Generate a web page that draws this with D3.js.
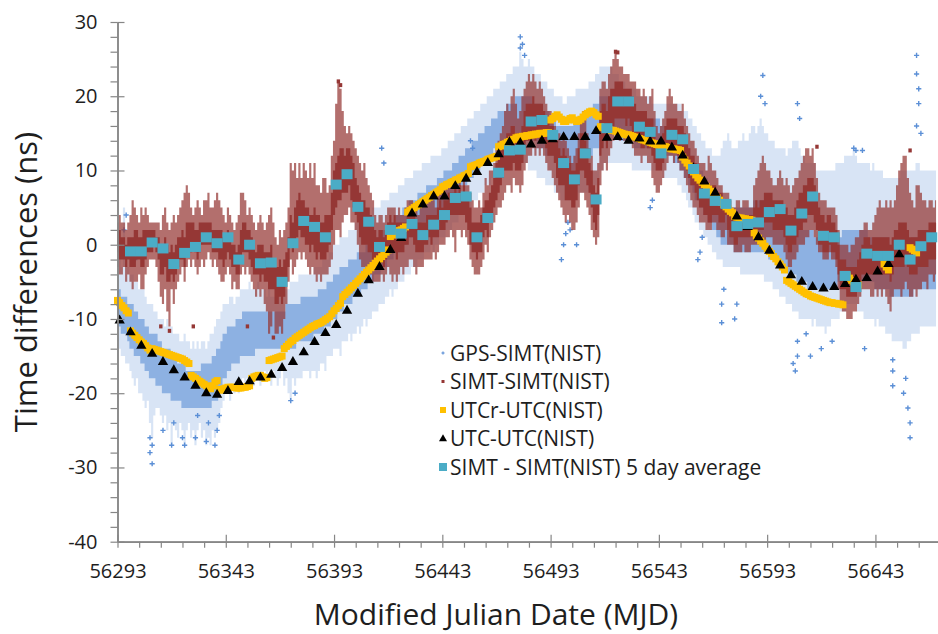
<!DOCTYPE html>
<html><head><meta charset="utf-8">
<script src="https://cdn.jsdelivr.net/npm/d3@7"></script>
<style>html,body{margin:0;padding:0;background:#fff;overflow:hidden}text{font-family:"Open Sans",sans-serif}</style>
</head><body>
<svg id="chart" width="938" height="634"></svg>
<script>
// ---------------- DATA ----------------
const startMJD = 56293;          // first day of the daily series
const xMajorTicks = [56293,56343,56393,56443,56493,56543,56593,56643];
const yMajorTicks = [-40,-30,-20,-10,0,10,20,30];
const seriesNames = ["GPS-SIMT(NIST)","SIMT-SIMT(NIST)","UTCr-UTC(NIST)","UTC-UTC(NIST)","SIMT - SIMT(NIST) 5 day average"];

// GPS-SIMT(NIST): daily [min, core low, core high, max] (ns), from MJD 56293
const gpsDaily = [
[-13,-11,-6,-2],[-14,-11,-6,0],[-15,-12,-7,-3],[-15,-12,-7,5],[-16,-12,-7,-2],[-16,-13,-8,-3],[-17,-14,-8,-4],[-18,-14,-8,-4],[-19,-15,-9,-5],[-18,-15,-9,-5],
[-20,-15,-10,-6],[-20,-16,-10,-6],[-21,-16,-10,-6],[-22,-17,-11,-7],[-21,-17,-11,-8],[-24,-18,-12,-8],[-26,-18,-12,-8],[-23,-18,-12,-9],[-22,-19,-12,-9],[-22,-19,-13,-10],
[-23,-19,-13,-10],[-24,-20,-14,-10],[-23,-20,-14,-11],[-25,-20,-14,-10],[-24,-20,-14,-11],[-27,-21,-15,-11],[-24,-21,-15,-12],[-25,-21,-15,-12],[-26,-21,-16,-12],[-24,-21,-16,-13],
[-25,-22,-16,-13],[-27,-22,-16,-12],[-25,-22,-17,-13],[-24,-22,-17,-13],[-26,-22,-17,-14],[-25,-22,-17,-13],[-27,-22,-17,-14],[-25,-22,-17,-13],[-24,-22,-17,-14],[-26,-22,-16,-13],
[-25,-22,-16,-13],[-27,-22,-16,-14],[-26,-22,-16,-13],[-27,-22,-16,-12],[-25,-21,-15,-12],[-26,-21,-15,-11],[-25,-21,-14,-10],[-24,-20,-14,-10],[-22,-19,-13,-9],[-21,-18,-12,-8],
[-20,-18,-12,-8],[-20,-17,-11,-8],[-21,-17,-11,-7],[-19,-16,-11,-7],[-20,-16,-11,-8],[-19,-16,-10,-7],[-20,-16,-10,-7],[-19,-15,-10,-6],[-18,-15,-9,-6],[-19,-15,-9,-6],
[-18,-15,-9,-6],[-19,-15,-9,-5],[-18,-15,-9,-6],[-19,-15,-9,-6],[-18,-14,-9,-6],[-18,-14,-9,-5],[-19,-14,-9,-6],[-18,-14,-9,-6],[-17,-14,-9,-6],[-18,-14,-9,-7],
[-17,-14,-9,-6],[-19,-14,-9,-7],[-17,-14,-9,-7],[-18,-14,-9,-7],[-19,-14,-9,-7],[-18,-14,-9,-6],[-17,-14,-9,-6],[-19,-14,-9,-6],[-18,-14,-8,-6],[-20,-14,-8,-6],
[-21,-14,-8,-5],[-18,-14,-8,-5],[-19,-14,-8,-5],[-18,-13,-8,-5],[-18,-13,-8,-4],[-18,-13,-7,-4],[-17,-13,-7,-4],[-17,-13,-7,-4],[-17,-13,-7,-4],[-18,-13,-7,-4],
[-17,-13,-7,-4],[-17,-12,-7,-3],[-18,-12,-7,-3],[-17,-12,-6,-3],[-16,-12,-6,-3],[-16,-12,-6,-2],[-17,-11,-6,-2],[-15,-11,-5,-2],[-15,-11,-5,-1],[-15,-10,-5,-1],
[-14,-10,-4,0],[-14,-10,-4,0],[-14,-9,-4,0],[-15,-9,-3,1],[-13,-9,-3,1],[-13,-8,-3,1],[-13,-8,-3,1],[-12,-8,-2,2],[-13,-8,-2,2],[-12,-7,-2,2],
[-12,-7,-2,3],[-11,-7,-1,3],[-12,-7,-1,3],[-11,-6,-1,3],[-10,-6,-1,4],[-11,-6,0,4],[-10,-5,0,4],[-10,-5,0,4],[-9,-5,0,5],[-9,-4,1,5],
[-9,-4,1,5],[-8,-4,1,5],[-8,-3,2,6],[-8,-3,2,6],[-7,-3,2,6],[-7,-2,3,6],[-6,-2,3,7],[-7,-2,3,7],[-6,-1,3,7],[-6,-1,4,7],
[-5,-1,4,8],[-5,0,4,8],[-5,0,5,8],[-4,0,5,9],[-4,1,5,9],[-4,1,6,9],[-3,1,6,9],[-3,2,6,10],[-3,2,6,10],[-2,2,7,10],
[-2,2,7,10],[-2,3,7,11],[-1,3,7,11],[-1,3,8,11],[-1,3,8,11],[0,4,8,12],[-1,4,8,12],[0,4,8,12],[0,4,9,12],[1,5,9,12],
[1,5,9,13],[1,5,10,13],[2,5,10,13],[2,6,10,14],[2,6,10,14],[3,6,11,14],[3,7,11,15],[3,7,11,15],[4,7,12,15],[4,8,12,16],
[4,8,12,16],[5,8,13,16],[5,9,13,17],[5,9,13,17],[6,9,14,17],[6,10,14,18],[6,10,14,18],[7,10,15,18],[7,11,15,19],[7,11,15,19],
[8,11,16,19],[8,12,16,20],[8,12,16,20],[9,12,17,20],[9,13,17,21],[9,13,17,21],[10,13,18,21],[10,13,18,22],[10,14,18,22],[10,14,18,22],
[10,14,19,23],[10,14,19,23],[11,14,19,23],[11,14,19,24],[11,15,20,24],[11,15,20,24],[11,15,20,26],[11,15,20,25],[11,15,20,24],[11,15,20,24],
[10,14,20,25],[10,14,20,24],[10,14,19,24],[10,14,19,23],[9,13,19,23],[9,13,19,23],[9,13,18,22],[9,13,18,22],[8,12,18,22],[8,12,18,21],
[8,12,17,21],[8,12,17,21],[7,11,17,20],[7,11,16,20],[7,11,16,20],[6,10,16,20],[6,10,16,19],[6,10,16,19],[6,10,16,20],[6,10,16,20],
[6,10,16,20],[6,10,17,20],[6,11,17,21],[7,11,17,21],[7,11,17,21],[7,11,17,21],[7,12,18,21],[7,12,18,21],[7,12,18,22],[8,12,18,22],
[8,13,19,22],[8,13,19,23],[9,13,19,23],[10,14,20,24],[10,14,20,24],[11,15,20,24],[11,15,20,24],[11,15,20,24],[11,15,20,24],[11,15,20,23],
[11,15,20,23],[11,15,19,23],[11,14,19,22],[11,14,19,22],[11,14,19,22],[11,14,19,21],[11,14,18,21],[11,14,18,21],[10,14,18,21],[10,13,18,21],
[10,13,18,20],[10,13,18,20],[10,13,17,20],[10,13,17,20],[10,13,17,20],[10,13,17,20],[10,13,17,20],[10,13,17,19],[10,13,17,19],[10,13,17,19],
[10,12,17,19],[10,12,16,19],[9,12,16,19],[9,12,16,19],[9,12,16,19],[9,12,16,19],[9,12,16,19],[9,11,16,19],[9,11,15,19],[8,11,15,19],
[8,10,15,19],[7,10,14,18],[7,9,14,18],[6,9,13,18],[5,8,13,17],[5,8,12,17],[4,7,12,16],[3,6,11,16],[3,6,11,15],[2,5,10,15],
[2,5,10,14],[1,4,9,14],[1,4,9,13],[0,3,8,13],[0,3,8,13],[-1,2,7,12],[-1,2,7,12],[-2,1,7,12],[-2,1,6,12],[-2,0,6,13],
[-3,0,6,14],[-3,0,5,14],[-3,0,5,15],[-3,0,5,14],[-3,0,5,13],[-3,-1,5,13],[-3,-1,5,13],[-3,-1,5,14],[-4,-1,5,14],[-4,-1,5,15],
[-4,-1,5,14],[-4,-1,5,14],[-4,-1,5,15],[-4,-1,5,16],[-4,-1,6,16],[-4,-1,6,15],[-4,-1,6,16],[-4,-1,6,17],[-4,-1,6,16],[-5,-1,6,15],
[-5,-1,6,15],[-5,-2,6,14],[-5,-2,5,14],[-6,-2,5,14],[-6,-2,5,13],[-6,-2,5,13],[-7,-3,5,13],[-7,-3,4,13],[-7,-3,4,13],[-8,-3,4,12],
[-8,-4,4,13],[-8,-4,3,13],[-9,-4,3,14],[-9,-4,3,14],[-9,-5,3,14],[-10,-5,3,13],[-10,-5,2,12],[-10,-5,2,12],[-10,-5,2,11],[-10,-6,2,11],
[-10,-6,2,11],[-11,-6,2,11],[-10,-6,1,11],[-11,-6,1,10],[-11,-6,1,10],[-11,-6,1,10],[-11,-6,1,10],[-12,-6,1,10],[-11,-6,1,10],[-11,-6,1,10],
[-10,-6,1,10],[-10,-6,1,10],[-10,-6,1,11],[-10,-5,1,11],[-9,-5,1,11],[-9,-5,2,11],[-9,-5,2,12],[-8,-5,2,12],[-8,-4,2,12],[-8,-4,2,12],
[-8,-4,2,13],[-8,-4,2,12],[-9,-4,2,11],[-9,-5,2,11],[-9,-5,2,11],[-10,-5,2,11],[-10,-5,2,11],[-10,-5,1,11],[-10,-5,1,10],[-10,-5,1,11],
[-11,-6,1,10],[-10,-6,1,10],[-11,-6,1,10],[-11,-6,1,10],[-11,-6,1,9],[-12,-6,1,9],[-12,-6,1,9],[-12,-7,0,9],[-13,-7,0,9],[-13,-7,0,9],
[-13,-7,0,9],[-13,-7,0,9],[-13,-7,0,10],[-14,-7,0,10],[-14,-7,0,10],[-13,-7,0,10],[-13,-7,0,10],[-12,-7,1,10],[-12,-6,1,10],[-12,-6,1,11],
[-12,-6,1,11],[-11,-6,1,10],[-11,-6,1,10],[-11,-6,1,10],[-11,-6,1,10],[-11,-6,1,10],[-11,-6,1,10],[-11,-6,1,10],[-11,-6,1,10]
];
// GPS-SIMT(NIST) isolated points [MJD, ns]
const gpsOutliers = [
[56296,2],[56297,4],[56299,-1],[56301,-2],[56308,-26],[56308,-28],[56309,-29.5],[56309,-27],[56314,-25],[56318,-27],[56319,-24],[56323,-26],
[56324,-27],[56329,-26],[56330,-23],[56334,-26.5],[56335,-24],[56338,-27],[56339,-25],[56340,-23],[56373,-21],[56375,-20],
[56415,13],[56416,11],[56456,14],[56457,13],[56479,28],[56479,26.5],[56480,27],[56481,25.5],
[56498,-2],[56499,0],[56500,1.5],[56501,3],[56502,2],[56505,0],[56539,5],[56540,6],[56561,-2],[56562,-1],[56563,1],
[56572,-10.5],[56572,-8],[56573,-6],[56578,-10],[56579,-8],[56605,-16],[56606,-17],[56607,-15],[56607,-13],[56611,-12],[56613,-15],
[56618,-14],[56623,-13],[56638,-14],[56651,-19],[56651,-17],[56651,-15.5],[56656,-20],[56657,-18],[56658,-22],[56659,-24],[56659,-26],
[56590,20],[56591,22.8],[56592,19],[56607,19],[56608,17],[56633,13],[56634,12.7],[56637,12.7],
[56662,25.5],[56662,23],[56663,21],[56663,19],[56662,16],[56664,15]
];

// SIMT-SIMT(NIST): daily [min, core low, core high, max] (ns), from MJD 56293
const simtDaily = [
[-3,-1,2,3],[-4,-2,2,4],[-4,-2,1,3],[-3,-2,1,3],[-5,-3,0,2],[-4,-2,1,3],[-5,-3,1,4],[-6,-3,1,6],[-5,-3,2,5],[-5,-2,2,4],
[-4,-2,1,3],[-6,-3,1,5],[-6,-3,2,4],[-4,-2,2,5],[-3,-1,2,4],[-2,-1,2,3],[-2,-1,2,3],[-2,0,2,3],[-3,-1,1,3],[-5,-2,1,3],
[-7,-4,0,2],[-8,-4,0,4],[-6,-3,1,5],[-9,-5,0,3],[-11,-5,-1,2],[-6,-4,0,3],[-8,-5,-1,4],[-6,-4,0,3],[-5,-3,1,4],[-4,-2,1,5],
[-3,-2,2,6],[-5,-3,1,7],[-3,-1,3,8],[-2,-1,3,7],[-3,-1,3,5],[-2,0,3,4],[-3,-1,2,5],[-4,-2,2,6],[-3,-1,3,5],[-2,0,3,4],
[-3,0,3,6],[-2,0,3,6],[-1,0,3,7],[-2,0,3,5],[-3,-1,2,5],[-2,-1,2,6],[-3,-1,2,7],[-4,-2,2,6],[-5,-2,2,5],[-5,-3,1,4],
[-4,-2,1,3],[-3,-1,2,5],[-4,-2,1,4],[-6,-3,0,3],[-5,-3,0,2],[-6,-4,-1,3],[-6,-4,0,4],[-4,-2,2,7],[-3,-1,3,7],[-4,-1,3,6],
[-3,-1,2,4],[-4,-2,2,5],[-5,-3,1,4],[-6,-4,0,3],[-7,-4,-1,2],[-6,-4,0,3],[-7,-5,0,4],[-6,-4,0,3],[-8,-5,-1,2],[-9,-5,-1,3],
[-12,-6,-1,4],[-11,-6,0,5],[-9,-6,-2,3],[-12,-8,-3,1],[-12,-8,-3,0],[-11,-7,-2,2],[-12,-8,-3,1],[-10,-7,-2,2],[-8,-5,-1,3],[-5,-3,1,5],
[-2,0,4,11],[-4,-1,3,10],[-3,0,5,11],[-2,1,6,9],[-1,2,7,11],[-2,1,6,9],[-1,1,6,11],[-2,0,5,10],[-3,0,5,9],[-4,-1,4,11],
[-3,0,4,9],[-4,-1,5,11],[-5,-2,4,8],[-4,-1,4,8],[-5,-2,3,7],[-4,-2,3,9],[-4,-2,4,9],[-4,-1,4,7],[-3,0,4,8],[-2,2,7,12],
[0,4,10,14],[2,5,11,19],[2,6,12,22],[1,6,13,21],[3,7,13,18],[4,7,12,16],[4,7,13,15],[5,8,13,16],[3,6,12,15],[3,5,11,14],
[2,4,9,13],[0,3,8,12],[-2,1,7,11],[-3,0,6,10],[-3,0,6,11],[-4,0,5,9],[-4,-1,5,8],[-4,-1,4,7],[-5,-2,3,6],[-5,-2,2,4],
[-5,-3,1,3],[-5,-3,2,4],[-4,-2,2,4],[-5,-3,1,3],[-4,-2,2,4],[-3,-1,3,5],[-4,-1,4,5],[-5,-1,3,5],[-4,-1,4,5],[-5,-2,3,4],
[-4,-1,3,5],[-3,-1,3,4],[-4,-1,3,4],[-3,0,3,5],[-3,0,4,6],[-2,1,4,6],[-2,1,4,6],[-3,0,4,5],[-4,-1,3,5],[-3,-1,3,4],
[-3,-1,3,5],[-3,-1,3,6],[-2,0,3,6],[-2,0,4,6],[-2,1,4,7],[-2,0,4,6],[-1,1,4,6],[-2,1,4,5],[-1,1,5,7],[0,2,6,7],
[0,2,5,8],[0,2,6,8],[1,3,6,8],[1,4,7,8],[2,4,7,9],[1,4,7,8],[-1,4,8,9],[2,4,7,8],[2,4,8,9],[1,4,7,8],
[2,4,8,9],[1,3,7,8],[0,2,6,8],[-2,0,5,7],[-3,-1,3,6],[-4,-1,3,5],[-4,-2,3,5],[-4,-1,3,6],[-3,-1,4,5],[-2,1,5,7],
[0,2,6,9],[-1,1,6,8],[1,3,7,10],[2,4,8,10],[3,5,9,11],[4,6,11,13],[5,7,12,14],[5,8,13,15],[6,9,14,16],[7,10,14,18],
[8,10,15,19],[8,10,15,18],[7,10,16,20],[9,11,16,21],[8,10,15,19],[8,10,15,17],[7,10,15,18],[8,11,16,20],[10,13,18,21],[11,14,19,22],
[12,14,19,23],[12,14,19,22],[13,15,20,23],[12,14,19,22],[13,15,19,21],[12,14,19,22],[13,15,19,21],[12,14,18,20],[11,13,17,19],[10,12,17,18],
[10,12,16,18],[9,12,16,17],[8,11,15,16],[7,9,14,15],[6,8,13,15],[5,8,12,14],[4,8,13,15],[3,6,12,14],[4,6,11,13],[3,6,11,12],
[2,5,10,11],[2,5,10,12],[3,6,11,13],[5,8,13,15],[7,10,15,17],[7,10,15,18],[6,9,14,17],[5,8,13,15],[4,7,11,13],[2,5,10,12],
[1,3,8,10],[0,2,7,10],[1,4,9,11],[8,12,18,21],[10,13,19,22],[11,14,19,22],[10,13,18,21],[12,15,20,23],[13,16,21,24],[14,16,21,25],
[15,17,22,26],[15,17,22,25],[14,17,22,24],[15,17,22,24],[14,17,21,23],[14,16,21,23],[15,17,21,23],[14,16,21,22],[13,15,20,22],[12,14,19,22],
[12,14,18,21],[12,14,18,21],[11,13,18,20],[12,13,18,21],[12,14,18,20],[11,13,17,19],[11,13,17,20],[9,12,17,21],[8,11,15,18],[7,10,14,16],
[7,10,14,15],[8,10,14,16],[9,11,15,17],[10,12,16,18],[11,13,17,20],[12,13,17,21],[12,13,17,20],[11,13,17,19],[12,13,17,19],[11,12,16,18],
[10,12,16,18],[10,12,16,19],[9,11,15,17],[8,10,14,16],[7,9,13,15],[6,8,12,14],[5,8,12,14],[5,7,11,13],[4,6,10,12],[3,5,9,11],
[3,5,9,11],[3,4,9,11],[2,4,8,10],[2,3,8,12],[2,3,7,11],[3,4,8,10],[3,4,8,10],[2,4,7,9],[2,3,7,8],[1,3,7,8],
[1,3,6,7],[2,4,6,7],[0,2,5,7],[0,1,4,6],[0,1,4,5],[-1,0,4,5],[-1,0,4,6],[-1,1,4,6],[-1,1,4,5],[0,1,4,6],
[-1,1,4,6],[-1,1,4,6],[-1,1,4,5],[0,1,4,5],[0,2,5,8],[0,2,6,9],[0,2,5,10],[1,2,6,11],[0,2,6,12],[0,3,7,11],
[1,3,7,10],[1,3,7,10],[1,3,7,9],[0,2,6,8],[0,2,6,8],[0,2,6,9],[0,2,6,10],[0,2,6,9],[-1,1,5,8],[-2,0,5,9],
[-3,-1,4,8],[-3,-1,4,7],[-2,0,4,8],[-2,0,5,9],[-1,1,6,9],[0,2,7,10],[0,2,7,11],[0,3,8,12],[1,3,8,13],[1,4,9,13],
[2,4,9,12],[2,4,9,13],[1,3,8,11],[0,2,7,9],[-1,0,5,7],[-1,0,4,6],[-2,-1,4,6],[-2,-1,3,6],[-2,-1,4,5],[-1,0,4,5],
[-2,-1,3,5],[-2,-1,3,5],[-3,-2,2,4],[-6,-4,0,2],[-8,-6,-2,0],[-9,-6,-2,0],[-9,-6,-2,0],[-10,-7,-3,0],[-10,-7,-3,-1],[-10,-7,-3,0],
[-9,-7,-3,0],[-9,-7,-3,1],[-8,-6,-2,1],[-7,-5,-1,2],[-6,-4,0,2],[-6,-4,1,3],[-6,-4,1,3],[-6,-4,1,2],[-7,-4,0,2],[-7,-4,1,3],
[-6,-4,1,4],[-7,-4,1,5],[-6,-4,1,6],[-7,-4,1,5],[-6,-4,1,5],[-7,-4,1,6],[-8,-4,1,5],[-9,-5,0,6],[-7,-4,1,5],[-6,-3,2,6],
[-6,-3,2,8],[-6,-3,3,10],[-7,-3,3,11],[-6,-3,3,12],[-5,-2,3,12],[-6,-3,2,9],[-7,-4,1,7],[-7,-4,1,6],[-6,-4,1,5],[-7,-4,1,8],
[-6,-3,2,8],[-6,-3,2,7],[-5,-3,2,6],[-5,-3,2,6],[-6,-3,2,5],[-4,-2,3,6],[-4,-2,3,6],[-5,-2,3,5],[-4,-2,3,6]
];
// SIMT-SIMT(NIST) isolated points [MJD, ns]
const simtOutliers = [
[56313,-11],[56317,-11.6],[56328,-11],[56353,-11],[56365,-12.5],[56395,22],[56396,21.5],[56523,26],[56524,25.9],[56616,13.2],[56659,12.7]
];

// UTCr-UTC(NIST): daily values (ns) from MJD 56293
const utcrVals = [
-7.5,-7.8,-8.2,-8.5,-8.9,-9.2,-11.6,-11.9,-12.2,-12.5,
-12.8,-13.1,-13.3,-13.6,-13.9,-14.2,-14.0,-14.1,-14.2,-14.3,
-14.4,-14.5,-14.6,-14.7,-14.8,-14.9,-15.0,-15.1,-15.2,-15.3,
-15.4,-15.6,-15.8,-16.0,-17.6,-17.8,-18.0,-18.2,-18.4,-18.6,
-18.8,-19.0,-19.2,-19.4,-19.0,-18.5,-18.3,-19.5,-19.6,-19.4,
-19.3,-19.2,-19.2,-19.2,-19.2,-19.3,-19.3,-19.3,-19.2,-19.2,
-19.1,-19.0,-18.0,-17.8,-17.7,-17.6,-17.6,-17.8,-18.0,-17.9,
-15.6,-15.5,-15.4,-15.3,-15.2,-15.1,-15.0,-14.0,-13.7,-13.4,
-13.1,-12.9,-12.6,-12.4,-12.2,-12.0,-11.8,-11.6,-11.4,-11.2,
-11.0,-10.9,-10.7,-10.6,-10.5,-10.3,-10.1,-9.9,-9.7,-9.3,
-8.9,-8.6,-8.2,-7.9,-7.0,-6.7,-6.4,-6.1,-5.8,-5.5,
-5.2,-4.9,-4.6,-4.3,-4.0,-3.7,-3.4,-3.1,-2.8,-2.5,
-2.2,-1.9,-1.6,-1.3,-1.0,-0.7,1.1,1.3,1.5,1.7,
1.9,2.0,2.2,2.4,4.4,4.6,4.8,5.0,5.2,5.4,
5.6,5.8,6.0,6.2,6.4,6.6,6.8,7.0,7.2,7.4,
7.8,7.9,8.1,8.2,8.4,8.5,8.7,8.8,9.0,9.1,
9.3,9.4,9.6,10.5,10.6,10.7,10.8,11.0,11.1,11.2,
11.3,11.5,11.6,11.7,11.8,11.9,13.2,13.3,13.5,13.6,
13.8,13.9,14.1,14.2,14.4,14.5,14.5,14.6,14.6,14.7,
14.7,14.8,14.8,14.9,14.9,15.0,15.0,15.0,15.1,15.1,
16.8,17.0,17.3,17.5,17.2,16.9,16.6,16.6,16.8,17.0,
17.1,16.8,16.6,16.7,16.9,17.2,17.5,17.7,17.9,18.0,
17.8,17.5,17.3,15.9,15.8,15.7,15.6,15.5,15.4,15.4,
15.3,15.2,15.1,15.0,14.9,14.8,14.8,14.7,14.6,14.5,
14.4,14.3,14.2,14.1,14.0,13.9,13.8,13.7,13.6,13.5,
13.4,13.3,13.2,13.2,13.1,13.0,12.9,12.9,12.8,12.8,
12.7,11.8,11.4,11.0,10.6,10.2,9.8,9.4,9.0,8.7,
8.4,8.1,7.8,7.5,7.2,6.9,6.6,6.3,6.0,5.7,
5.4,5.1,4.8,4.5,4.3,3.8,3.7,3.6,3.6,3.5,
3.5,3.4,3.4,3.3,1.6,1.2,0.9,0.5,0.2,-0.2,
-0.5,-0.9,-1.2,-1.6,-1.9,-2.3,-2.6,-3.0,-3.4,-4.8,
-5.0,-5.2,-5.4,-5.6,-5.8,-6.0,-6.2,-6.4,-6.6,-6.7,
-6.9,-7.0,-7.1,-7.2,-7.3,-7.4,-7.5,-7.6,-7.7,-7.8,
-7.8,-7.9,-7.9,-8.0,-8.0,-8.1
];
// UTCr-UTC(NIST) later scattered days [MJD, ns]
const utcrLate = [[56630,-4.2],[56631,-4.5],[56632,-4.8],[56633,-5.0],[56634,-5.2],[56635,-5.4],[56647,-2.6],[56648,-3.0],[56649,-3.4],[56659,-0.4],[56660,-0.6],[56661,-0.8],[56662,-1.1]];

// UTC-UTC(NIST): Circular T, every 5 days
const utcDays = [56294,56299,56304,56309,56314,56319,56324,56329,56334,56339,56344,56349,56354,56359,56364,56369,56374,56379,56384,56389,
56394,56399,56404,56409,56414,56419,56424,56429,56434,56439,56444,56449,56454,56459,56464,56469,56474,56479,56484,56489,
56494,56499,56504,56509,56514,56519,56524,56529,56534,56539,56544,56549,56554,56559,56564,56569,56574,56579,56584,56589,
56594,56599,56604,56609,56614,56619,56624,56629,56634,56639,56644,56649,56654];
const utcVals = [-10.2,-11.8,-13.6,-14.7,-15.8,-16.9,-17.9,-19.0,-20.0,-20.2,-19.7,-18.5,-18.4,-17.9,-17.5,-16.6,-15.8,-14.5,-13.1,-11.9,
-10.8,-8.9,-6.6,-4.8,-3.0,-0.7,0.9,4.2,5.4,6.5,6.5,7.9,8.9,9.8,11.0,12.2,13.8,13.7,13.5,14.0,
14.2,14.5,14.5,14.5,15.3,14.4,14.5,14.0,14.3,13.9,13.9,13.1,12.0,10.3,8.5,7.0,5.4,3.8,2.4,1.0,
-0.8,-2.8,-4.1,-5.0,-5.7,-5.9,-5.7,-5.3,-4.7,-4.5,-3.6,-2.6,-1.3];

// SIMT - SIMT(NIST) 5 day average
const avgDays = [56299,56304,56309,56314,56319,56324,56329,56334,56339,56344,56349,56354,56359,56364,56369,56374,56379,56384,56389,56394,
56399,56404,56409,56414,56419,56424,56429,56434,56439,56444,56449,56454,56459,56464,56469,56474,56479,56484,56489,56494,
56499,56504,56509,56514,56519,56524,56529,56534,56539,56544,56549,56554,56559,56564,56569,56574,56579,56584,56589,56594,
56599,56604,56609,56614,56619,56624,56629,56634,56639,56644,56649,56654,56659,56664,56669];
const avgVals = [-0.9,-0.9,0.3,-0.5,-2.6,-1.1,-0.3,1.0,0.2,1.0,-2.0,0.0,-2.5,-2.4,-5.0,0.2,3.2,2.4,1.0,8.1,
9.5,5.1,3.1,-0.3,2.0,1.5,2.8,1.3,2.7,4.0,6.3,6.5,1.0,3.6,9.7,12.7,12.8,16.6,16.8,14.8,
11.0,8.8,12.3,6.1,15.7,19.3,19.3,15.9,15.2,12.3,14.8,14.2,10.2,6.9,5.9,5.5,2.5,2.8,3.0,4.4,
4.8,1.9,4.2,6.5,1.2,1.0,-4.2,-5.7,-1.2,-1.5,-1.5,0.0,-2.0,-0.2,1.0];

// ---------------- DRAW ----------------
const C = {gps:"#5b8fd6", simt:"#953735", utcr:"#ffc000", utc:"#000000", avg:"#4bacc6", axis:"#868686", text:"#1e1e1e"};
const svg = d3.select("#chart");
const x = d3.scaleLinear().domain([56293, 56693]).range([117.5, 983.7]);
const y = d3.scaleLinear().domain([-40, 30]).range([541.7, 22]);
const X0 = x.range()[0], Y0 = y.range()[0];

const gpsRows = gpsDaily.map((v,i)=>({mjd:startMJD+i, v}));
const simtRows = simtDaily.map((v,i)=>({mjd:startMJD+i, v}));
const utcrRows = utcrVals.map((v,i)=>({mjd:startMJD+i, v})).concat(utcrLate.map(p=>({mjd:p[0], v:p[1]})));

const band = (a,b)=>d3.area().curve(d3.curveStep).x(d=>x(d.mjd)).y0(d=>y(d.v[a])).y1(d=>y(d.v[b]));
const plot = svg.append("g");

// GPS cloud
plot.append("path").datum(gpsRows).attr("d", band(0,3)).attr("fill", C.gps).attr("fill-opacity", 0.24);
plot.append("path").datum(gpsRows).attr("d", band(1,2)).attr("fill", C.gps).attr("fill-opacity", 0.6);
const plus = "M-2.6,0H2.6M0,-2.6V2.6";
plot.append("g").selectAll("path").data(gpsOutliers).join("path")
  .attr("transform", d=>`translate(${x(d[0])},${y(d[1])})`).attr("d", plus).attr("stroke", C.gps).attr("stroke-width", 1.4);

// SIMT cloud
plot.append("path").datum(simtRows).attr("d", band(0,3)).attr("fill", C.simt).attr("fill-opacity", 0.72);
plot.append("path").datum(simtRows).attr("d", band(1,2)).attr("fill", C.simt).attr("fill-opacity", 1);
plot.append("g").selectAll("rect").data(simtOutliers).join("rect")
  .attr("x", d=>x(d[0])-1.7).attr("y", d=>y(d[1])-2).attr("width", 3.4).attr("height", 4).attr("fill", C.simt);

// UTCr-UTC(NIST)
plot.append("g").selectAll("rect").data(utcrRows).join("rect")
  .attr("x", d=>x(d.mjd)-3.5).attr("y", d=>y(d.v)-3.5).attr("width", 7).attr("height", 7).attr("fill", C.utcr);

// UTC-UTC(NIST)
const tri = d3.symbol(d3.symbolTriangle, 46);
plot.append("g").selectAll("path").data(utcDays).join("path")
  .attr("transform", (d,i)=>`translate(${x(d)},${y(utcVals[i])})`).attr("d", tri).attr("fill", C.utc);

// 5 day average
plot.append("g").selectAll("rect").data(avgDays).join("rect")
  .attr("x", d=>x(d)-5.5).attr("y", (d,i)=>y(avgVals[i])-5).attr("width", 11).attr("height", 10).attr("fill", C.avg);

// ---------------- AXES ----------------
const yMinor = d3.range(-40, 31, 2).filter(v=>v%10!==0);
const xMinor = d3.range(56293, 56694, 10).filter(v=>(v-56293)%50!==0);
const fmt = d=>String(d);

const gy = svg.append("g").attr("transform", `translate(${X0},0)`);
gy.call(d3.axisLeft(y).tickValues(yMajorTicks).tickSize(7).tickSizeOuter(0).tickPadding(13).tickFormat(fmt));
gy.append("g").call(d3.axisRight(y).tickValues(yMajorTicks).tickSize(7).tickSizeOuter(0).tickFormat(""));
gy.append("g").call(d3.axisLeft(y).tickValues(yMinor).tickSize(7).tickSizeOuter(0).tickFormat(""));

const gx = svg.append("g").attr("transform", `translate(0,${Y0})`);
gx.call(d3.axisBottom(x).tickValues(xMajorTicks).tickSize(6).tickSizeOuter(0).tickPadding(16).tickFormat(fmt));
gx.append("g").call(d3.axisTop(x).tickValues(xMajorTicks).tickSize(7).tickSizeOuter(0).tickFormat(""));
gx.append("g").call(d3.axisBottom(x).tickValues(xMinor).tickSize(6).tickSizeOuter(0).tickFormat(""));

svg.selectAll(".domain, .tick line").attr("stroke", C.axis).attr("stroke-width", 1.2);
svg.selectAll(".tick text").attr("fill", C.text).style("font-size", "20px").style("font-family", '"Open Sans", sans-serif');

// Titles
svg.append("text").attr("x", 496).attr("y", 625).attr("text-anchor", "middle")
  .style("font-size", "30px").attr("fill", C.text).text("Modified Julian Date (MJD)");
svg.append("text").attr("transform", "translate(37,282) rotate(-90)").attr("text-anchor", "middle")
  .style("font-size", "31px").attr("fill", C.text).text("Time differences (ns)");

// ---------------- LEGEND ----------------
const legY = [353, 381.5, 410, 438.5, 467];
const lg = svg.append("g");
const mx = 443;
lg.append("path").attr("transform", `translate(${mx},${legY[0]})`).attr("d", "M-1.6,0H1.6M0,-1.6V1.6").attr("stroke", C.gps).attr("stroke-width", 1.2);
lg.append("rect").attr("x", mx-1.5).attr("y", legY[1]-1.5).attr("width", 3).attr("height", 3).attr("fill", C.simt);
lg.append("rect").attr("x", mx-3).attr("y", legY[2]-3).attr("width", 6).attr("height", 6).attr("fill", C.utcr);
lg.append("path").attr("transform", `translate(${mx},${legY[3]+0.5})`).attr("d", d3.symbol(d3.symbolTriangle, 28)).attr("fill", C.utc);
lg.append("rect").attr("x", mx-4).attr("y", legY[4]-4).attr("width", 8).attr("height", 8).attr("fill", C.avg);
lg.selectAll("text").data(seriesNames).join("text")
  .attr("x", 450).attr("y", (d,i)=>legY[i]+7.5).style("font-size", "21px").attr("fill", C.text).text(d=>d);
</script>
</body></html>
